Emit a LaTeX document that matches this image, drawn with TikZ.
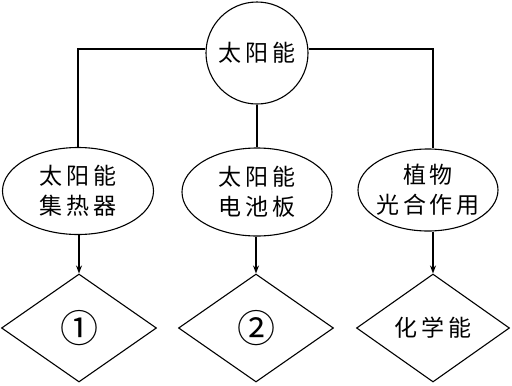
\documentclass[tikz,border=0pt]{standalone}
\usepackage{fontspec}
\setmainfont{Noto Sans CJK SC}[LetterSpace=16]
\usetikzlibrary{shapes.geometric,arrows.meta}
\begin{document}
\begin{tikzpicture}[x=1pt,y=-1pt,
  line width=1.1pt,
  txt/.style={font=\fontsize{23}{30}\selectfont, align=center},
  topc/.style={draw, circle, minimum size=102pt, inner sep=0pt, txt},
  ell/.style={draw, ellipse, inner sep=0pt},
  dia/.style={draw, diamond, inner sep=0pt, minimum width=155pt, minimum height=108pt, txt},
  num/.style={font=\fontsize{38}{38}\selectfont},
  arr/.style={-{Stealth[length=8pt,width=6pt]}}
]
\useasboundingbox (0,0) rectangle (512,386);
\node[topc] (top) at (257,53) {太阳能};
\node[ell, minimum width=151pt, minimum height=87pt, label={[txt]center:太阳能\\集热器}] (l) at (78,191) {};
\node[ell, minimum width=150pt, minimum height=88pt, label={[txt]center:太阳能\\电池板}] (m) at (257,192) {};
\node[ell, minimum width=140pt, minimum height=82pt, label={[txt]center:植物\\光合作用}] (r) at (428,190) {};
\node[dia, num] (d1) at (79,328) {①};
\node[dia, num] (d2) at (256,328) {②};
\node[dia, minimum width=153pt] (d3) at (433,328) {化学能};
\coordinate (hl) at (78,49);
\coordinate (hr) at (433,49);
\draw (l.north) -- (hl) -- (top.west|-hl);
\draw (r.north-|hr) -- (hr) -- (top.east|-hr);
\draw (top.south) -- (m.north);
\draw[arr] (l.south-|d1.north) -- (d1.north);
\draw[arr] (m.south-|d2.north) -- (d2.north);
\draw[arr] (r.south-|d3.north) -- (d3.north);
\end{tikzpicture}
\end{document}
